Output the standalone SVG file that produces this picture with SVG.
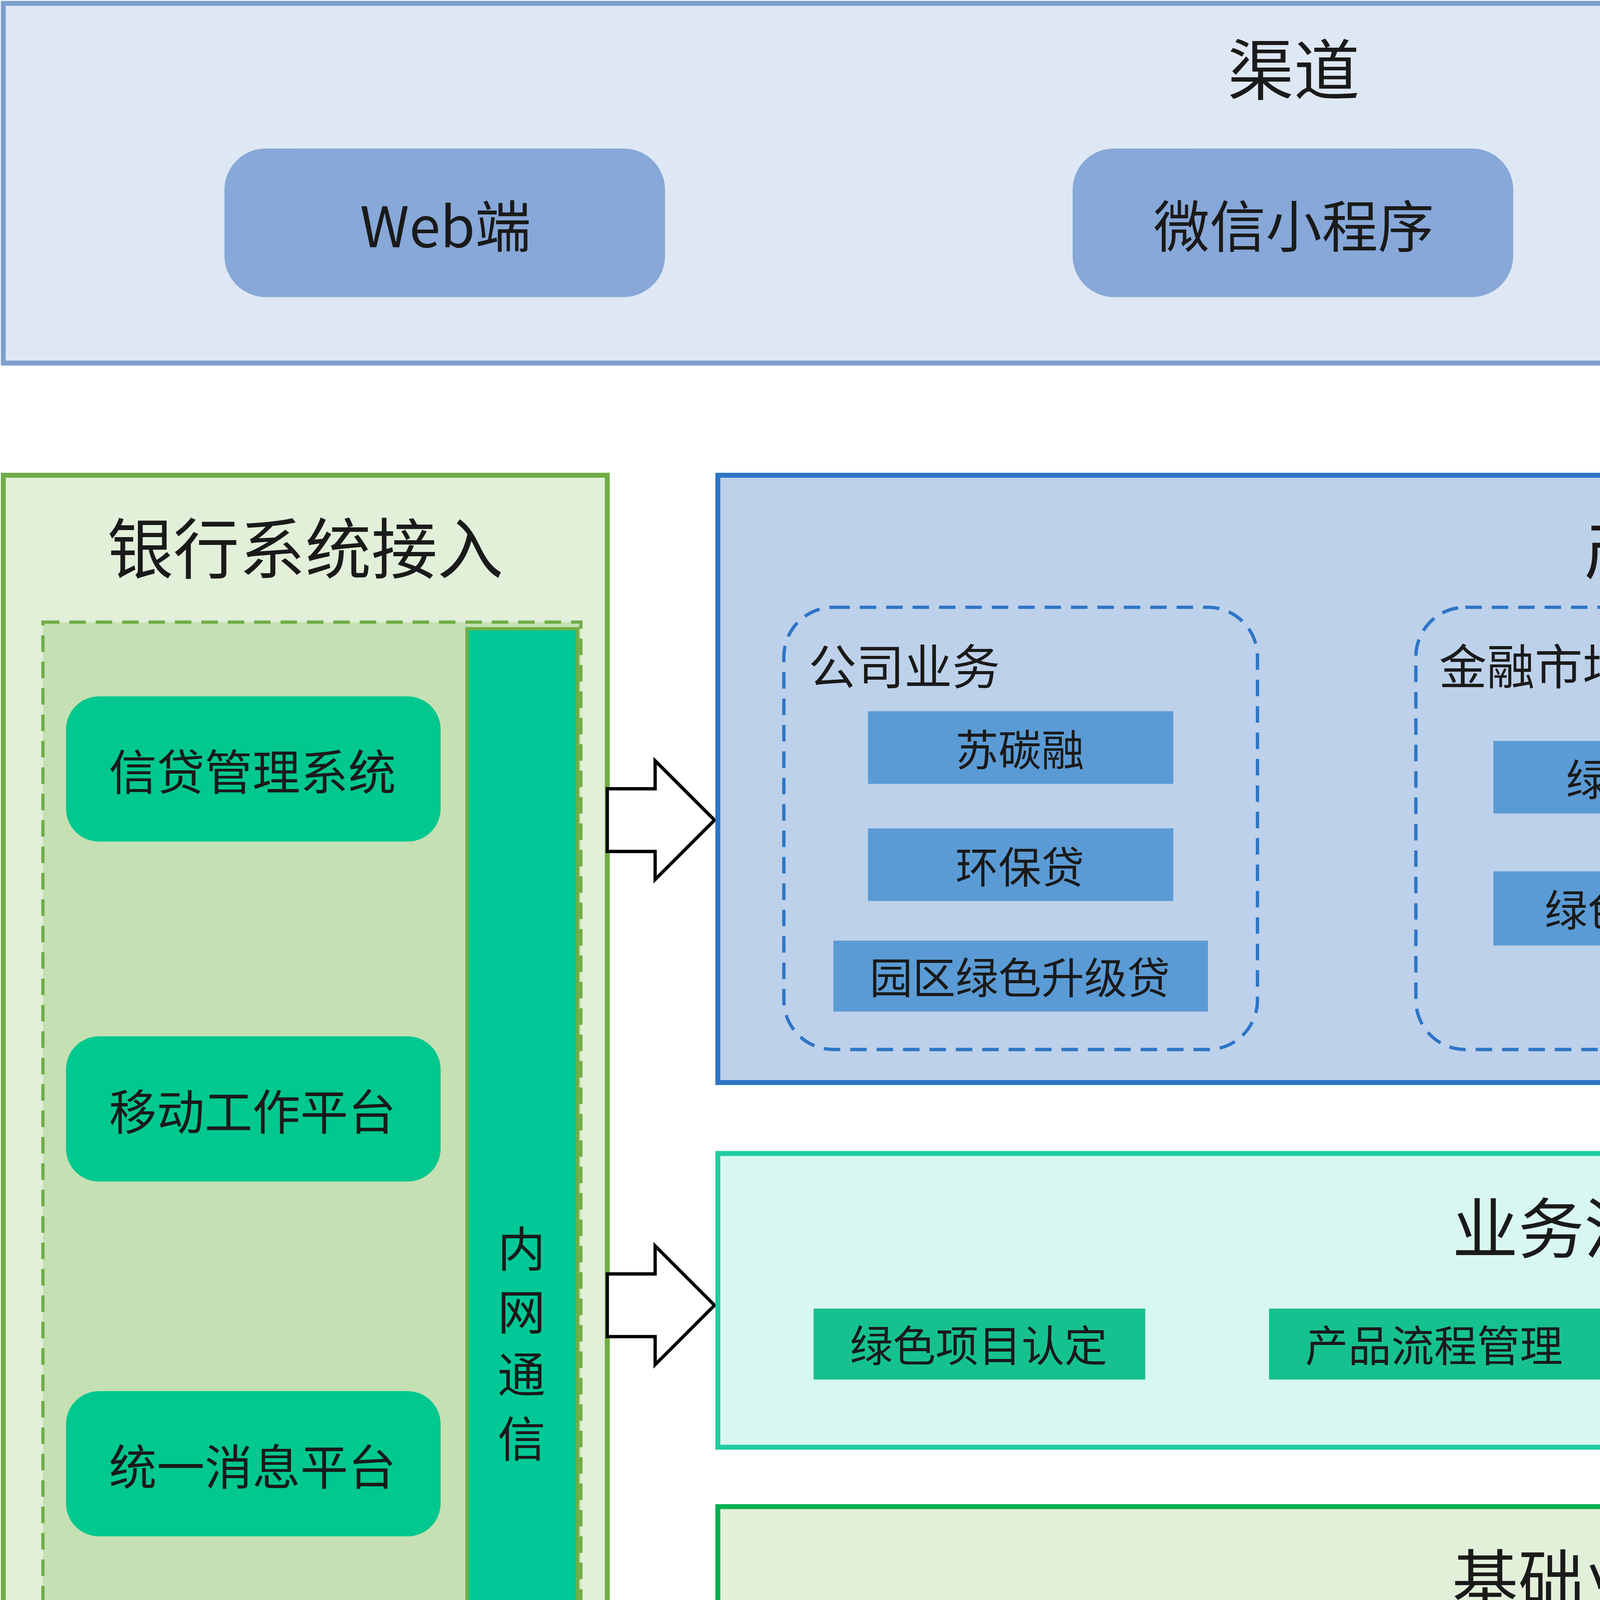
<svg xmlns="http://www.w3.org/2000/svg" width="6624" height="5424" viewBox="0 0 6624 5424">
<style>
text{font-family:"Noto Sans CJK SC","Liberation Sans",sans-serif;fill:#1a1a1a;text-anchor:middle;dominant-baseline:central}
.t40{font-size:40px}.t34{font-size:34px}.t30{font-size:29px}.t26{font-size:26px}
.l{text-anchor:start}
.btn{fill:#87a8d8}
.gn{fill:#00c88f}
.pb{fill:#5b9bd5}
.bp{fill:#16c190}
.gp{fill:#00c85a}
.arr{fill:#fff;stroke:#000;stroke-width:2}
</style>
<rect width="6624" height="5424" fill="#fff"/>
<g transform="scale(4.2245)">
<g id="channel">
<rect x="2" y="2" width="1564" height="218" fill="#dee8f4" stroke="#7fa0cf" stroke-width="3"/>
<text class="t40" x="784" y="40">渠道</text>
</g>
<g id="web"><rect class="btn" x="136" y="90" width="267" height="90" rx="25"/><text class="t34" x="270" y="135">Web端</text></g>
<g id="wechat"><rect class="btn" x="650" y="90" width="267" height="90" rx="25"/><text class="t34" x="784" y="135">微信小程序</text></g>
<g id="mobile"><rect class="btn" x="1164" y="90" width="267" height="90" rx="25"/><text class="t34" x="1298" y="135">移动工作平台</text></g>

<g id="bank">
<rect x="2" y="288" width="366" height="994" fill="#e2efd9" stroke="#70ad47" stroke-width="3"/>
<text class="t40" x="185" y="330">银行系统接入</text>
<rect x="26" y="377" width="326" height="875" fill="#c5e0b3" stroke="#70ad47" stroke-width="2" stroke-dasharray="10,6"/>
</g>
<g id="intranet">
<rect x="283" y="381" width="67" height="867" fill="#00c896" stroke="#70ad47" stroke-width="2"/>
<text class="t30" x="316" y="755">内</text><text class="t30" x="316" y="793">网</text><text class="t30" x="316" y="831">通</text><text class="t30" x="316" y="870">信</text>
</g>
<g id="b1"><rect class="gn" x="40" y="422" width="227" height="88" rx="20"/><text class="t30" x="153" y="466">信贷管理系统</text></g>
<g id="b2"><rect class="gn" x="40" y="628" width="227" height="88" rx="20"/><text class="t30" x="153" y="672">移动工作平台</text></g>
<g id="b3"><rect class="gn" x="40" y="843" width="227" height="88" rx="20"/><text class="t30" x="153" y="887">统一消息平台</text></g>
<g id="b4"><rect class="gn" x="40" y="1084" width="227" height="88" rx="20"/><text class="t30" x="153" y="1128">风险数据集市</text></g>

<g id="connectors">
<path class="arr" d="M368,478 H397 V461 L433,497 L397,533 V516 H368 Z"/>
<path class="arr" d="M368,772 H397 V755 L433,791 L397,827 V810 H368 Z"/>
<path class="arr" d="M368,1077 H397 V1060 L433,1096 L397,1132 V1115 H368 Z"/>
</g>

<g id="product">
<rect x="435" y="288" width="1131" height="368" fill="#bdd1ea" stroke="#2e75c6" stroke-width="3"/>
<text class="t40" x="1000" y="330">产品</text>
<rect x="475" y="368" width="287" height="268" rx="30" fill="none" stroke="#2e75c6" stroke-width="2" stroke-dasharray="10,6"/>
<text class="t30 l" x="490" y="402">公司业务</text>
<rect x="858" y="368" width="285" height="268" rx="30" fill="none" stroke="#2e75c6" stroke-width="2" stroke-dasharray="10,6"/>
<text class="t30 l" x="872" y="402">金融市场业务</text>
<rect x="1240" y="368" width="286" height="268" rx="30" fill="none" stroke="#2e75c6" stroke-width="2" stroke-dasharray="10,6"/>
<text class="t30 l" x="1254" y="402">零售业务</text>
</g>
<g id="p1"><rect class="pb" x="526" y="431" width="185" height="44"/><text class="t26" x="618" y="453">苏碳融</text></g>
<g id="p2"><rect class="pb" x="526" y="502" width="185" height="44"/><text class="t26" x="618" y="524">环保贷</text></g>
<g id="p3"><rect class="pb" x="505" y="570" width="227" height="43"/><text class="t26" x="618" y="591">园区绿色升级贷</text></g>
<g id="p4"><rect class="pb" x="905" y="449" width="192" height="44"/><text class="t26" x="1001" y="471">绿色债券</text></g>
<g id="p5"><rect class="pb" x="905" y="528" width="192" height="45"/><text class="t26" x="1001" y="550">绿色海外债</text></g>
<g id="p6"><rect class="pb" x="1269" y="449" width="227" height="43"/><text class="t26" x="1382" y="470">绿色低碳信用卡</text></g>
<g id="p7"><rect class="pb" x="1287" y="527" width="200" height="75"/><text class="t26" x="1387" y="547">新能源汽车</text><text class="t26" x="1387" y="581">定向购车分期</text></g>

<g id="process">
<rect x="435" y="699" width="1131" height="178" fill="#d9f7f2" stroke="#1fcc9f" stroke-width="3"/>
<text class="t40" x="1000" y="742">业务流程管理</text>
</g>
<g id="f1"><rect class="bp" x="493" y="793" width="201" height="43"/><text class="t26" x="593" y="814">绿色项目认定</text></g>
<g id="f2"><rect class="bp" x="769" y="793" width="201" height="43"/><text class="t26" x="869" y="814">产品流程管理</text></g>
<g id="f3"><rect class="bp" x="1045" y="793" width="201" height="43"/><text class="t26" x="1145" y="814">深绿客户认定</text></g>
<g id="f4"><rect class="bp" x="1309" y="793" width="196" height="43"/><text class="t26" x="1407" y="814">社环风险管理</text></g>

<g id="base">
<rect x="435" y="913" width="1131" height="369" fill="#e2efd9" stroke="#00b050" stroke-width="3"/>
<text class="t40" x="1000" y="955">基础业务平台</text>
<rect x="525" y="990" width="357" height="267" rx="35" fill="none" stroke="#00c060" stroke-width="2" stroke-dasharray="10,6"/>
<text class="t30 l" x="538" y="1023">客户信息平台</text>
<rect x="1119" y="990" width="358" height="267" rx="35" fill="none" stroke="#00c060" stroke-width="2" stroke-dasharray="10,6"/>
<text class="t30 l" x="1133" y="1023">系统管理</text>
</g>
<g id="c1"><rect class="gp" x="614" y="1057" width="185" height="43"/><text class="t26" x="706" y="1078">信管客户</text></g>
<g id="c2"><rect class="gp" x="612" y="1128" width="185" height="44"/><text class="t26" x="704" y="1150">深绿客户</text></g>
<g id="c3"><rect class="gp" x="612" y="1200" width="185" height="43"/><text class="t26" x="704" y="1221">重点客户</text></g>
<g id="s1"><rect class="gp" x="1205" y="1057" width="185" height="43"/><text class="t26" x="1297" y="1078">用户管理</text></g>
<g id="s2"><rect class="gp" x="1205" y="1128" width="185" height="44"/><text class="t26" x="1297" y="1150">角色管理</text></g>
<g id="s3"><rect class="gp" x="1205" y="1200" width="185" height="43"/><text class="t26" x="1297" y="1221">机构管理</text></g>
</g>
</svg>
